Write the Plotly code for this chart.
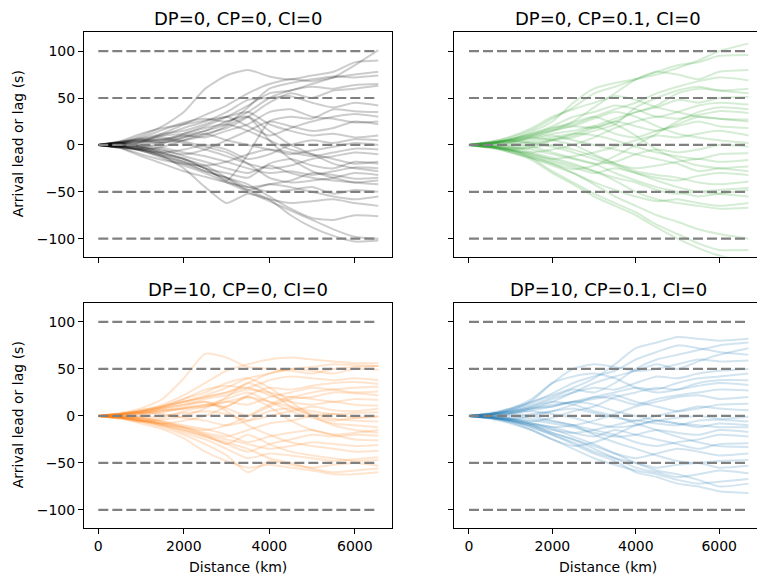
import plotly.graph_objects as go

# ---------------- data ----------------
dist_left = [0, 500, 1000, 1500, 2000, 2500, 3000, 3500, 4000, 4500, 5000, 5500, 6000, 6550]
dist_right = [0, 500, 1000, 1500, 2000, 2500, 3000, 3500, 4000, 4500, 5000, 5500, 6000, 6700]

gray_runs = [
    [0, 3, 6, 5, 12, 20, 30, 42, 55, 58, 65, 72, 85, 101],
    [0, 3, 10, 20, 35, 60, 74, 80, 73, 70, 74, 78, 88, 90],
    [0, -2, 3, 12, 22, 32, 42, 55, 65, 70, 68, 72, 75, 78],
    [0, 1, 4, 2, 8, 15, 22, 40, 60, 66, 70, 73, 72, 74],
    [0, 2, 8, 16, 24, 28, 25, 35, 50, 58, 62, 60, 64, 65],
    [0, -3, -5, -2, 5, 12, 18, 30, 45, 55, 50, 58, 60, 63],
    [0, 2, 5, 10, 18, 25, 35, 48, 50, 52, 45, 40, 45, 42],
    [0, -1, -6, -12, -18, -25, -38, -10, 25, 30, 28, 38, 36, 35],
    [0, 3, 7, 12, 15, 22, 30, 20, 10, 18, 25, 30, 33, 30],
    [0, -2, 2, 6, 10, 8, 15, 22, 35, 38, 30, 28, 24, 25],
    [0, 2, -2, -6, -10, -5, 5, 15, 25, 20, 15, 18, 25, 22],
    [0, 4, 12, 18, 22, 26, 30, 35, 22, 15, 10, 12, 8, 10],
    [0, -2, -5, -8, -5, 0, -5, -15, -10, 0, 5, 2, 6, 5],
    [0, 2, 5, 3, 8, 12, 5, 0, -5, -10, -6, -2, 2, 0],
    [0, -3, -10, -16, -20, -22, -18, -10, -5, -8, -12, -8, -4, -5],
    [0, 1, 3, 6, 2, -5, -12, -20, -25, -22, -15, -12, -8, -10],
    [0, 3, 6, 10, 12, 18, 22, 15, 5, -5, -10, -15, -20, -18],
    [0, -2, -4, -10, -15, -25, -30, -35, -20, -15, -22, -25, -18, -20],
    [0, 2, 0, -3, -8, -12, -18, -25, -30, -28, -32, -28, -24, -25],
    [0, -1, -3, 2, 5, 10, 20, 30, 15, 0, -10, -20, -25, -28],
    [0, 2, 4, 8, 4, -2, -8, -20, -35, -40, -38, -35, -30, -32],
    [0, -2, -6, -12, -20, -28, -35, -45, -42, -38, -30, -32, -36, -35],
    [0, 1, -2, -5, -12, -18, -25, -30, -22, -30, -35, -38, -40, -38],
    [0, -2, 0, 4, 10, 15, 25, 30, 5, -15, -28, -35, -40, -42],
    [0, -3, -12, -20, -28, -34, -40, -45, -50, -48, -45, -52, -48, -50],
    [0, 2, -2, -8, -15, -22, -35, -48, -42, -45, -50, -55, -58, -55],
    [0, -2, -5, -12, -25, -45, -62, -52, -58, -62, -60, -58, -62, -65],
    [0, -1, -4, -10, -18, -28, -35, -42, -55, -68, -78, -80, -75, -76],
    [0, -2, -6, -14, -22, -30, -40, -50, -60, -70, -80, -90, -98, -100],
    [0, 1, -3, -8, -15, -25, -38, -48, -58, -75, -88, -97, -103, -102],
]

green_runs = [
    [0, 2, 6, 14, 25, 45, 60, 66, 70, 75, 82, 90, 100, 108],
    [0, 3, 8, 16, 28, 40, 55, 62, 70, 78, 85, 88, 95, 96],
    [0, -2, 2, 8, 15, 25, 40, 55, 70, 78, 75, 70, 78, 80],
    [0, 2, 5, 10, 18, 22, 30, 38, 45, 55, 62, 68, 72, 69],
    [0, -1, -4, -2, 5, 12, 20, 28, 35, 42, 55, 60, 58, 60],
    [0, 2, 4, 10, 16, 20, 18, 25, 35, 40, 48, 45, 50, 51],
    [0, 1, 6, 12, 20, 30, 35, 42, 38, 30, 35, 42, 45, 43],
    [0, -2, -6, -8, -5, 0, 8, 18, 25, 30, 28, 32, 36, 34],
    [0, 2, 4, 2, 6, 10, 18, 25, 20, 15, 22, 30, 28, 27],
    [0, 1, 3, 8, 12, 15, 20, 12, 8, 15, 20, 25, 20, 18],
    [0, -3, -5, -10, -15, -12, -8, -2, 5, 10, 8, 12, 15, 10],
    [0, 2, 6, 10, 15, 20, 28, 35, 30, 20, 12, 8, 5, 2],
    [0, -1, -2, -5, -10, -15, -20, -18, -10, -5, -8, -5, 0, -2],
    [0, 2, 0, 4, 8, 12, 10, 5, -2, -8, -12, -15, -10, -9],
    [0, -2, -5, -3, 0, -5, -12, -20, -25, -22, -18, -15, -18, -16],
    [0, 1, 4, 6, 10, 5, 0, -5, -10, -15, -20, -28, -25, -23],
    [0, -2, -6, -12, -18, -24, -30, -25, -30, -35, -38, -33, -30, -32],
    [0, 2, 5, 8, 5, 0, -10, -20, -28, -32, -35, -40, -42, -39],
    [0, -1, -4, -10, -16, -22, -28, -35, -40, -48, -52, -50, -48, -46],
    [0, 3, 5, 2, -2, -8, -15, -22, -30, -38, -45, -50, -52, -55],
    [0, -2, -7, -14, -22, -30, -40, -48, -55, -60, -58, -62, -65, -62],
    [0, 1, -2, -8, -14, -20, -28, -38, -50, -58, -62, -65, -68, -67],
    [0, -2, -6, -12, -20, -30, -42, -55, -65, -75, -82, -90, -95, -100],
    [0, -1, -5, -14, -28, -40, -52, -62, -72, -85, -95, -105, -112, -112],
    [0, -2, -8, -16, -30, -42, -55, -65, -75, -88, -100, -110, -118, -125],
    [0, 3, 9, 18, 30, 38, 45, 52, 48, 40, 35, 30, 28, 25],
    [0, -3, -8, -14, -20, -26, -22, -12, 0, 12, 25, 35, 40, 38],
    [0, 2, 6, 12, 18, 24, 30, 22, 10, -5, -15, -22, -25, -28],
    [0, -2, -3, 0, 5, 8, 15, 22, 40, 50, 58, 62, 58, 55],
    [0, 1, 2, -2, -8, -14, -20, -30, -38, -45, -50, -55, -52, -48],
]

orange_runs = [
    [0, 3, 8, 18, 40, 66, 62, 52, 50, 48, 45, 50, 52, 53],
    [0, 2, 6, 12, 22, 35, 48, 55, 60, 62, 60, 58, 56, 56],
    [0, -2, 2, 8, 15, 20, 25, 35, 45, 50, 48, 45, 50, 49],
    [0, 1, 4, 10, 18, 28, 32, 30, 38, 42, 40, 38, 40, 38],
    [0, -1, -5, -8, -5, 0, 10, 22, 30, 28, 32, 35, 36, 34],
    [0, 2, 5, 8, 12, 18, 22, 28, 25, 20, 25, 28, 30, 31],
    [0, -2, -4, -2, 5, 10, 15, 12, 20, 25, 30, 28, 25, 26],
    [0, 1, 3, 6, 10, 15, 8, 0, 10, 18, 20, 25, 24, 22],
    [0, -1, -3, -8, -12, -15, -10, 0, 12, 20, 18, 15, 18, 17],
    [0, 2, 6, 10, 15, 20, 25, 30, 22, 15, 12, 15, 12, 11],
    [0, -1, -2, 0, 3, 5, 2, -5, 0, 5, 10, 6, 5, 8],
    [0, 1, 2, 5, 8, 10, 15, 20, 15, 10, 5, 2, 3, 4],
    [0, -2, -5, -8, -12, -18, -22, -15, -8, -5, 0, 2, -2, -1],
    [0, 2, 4, 2, -2, -5, -10, -5, 5, 8, 2, -3, -5, -6],
    [0, -1, 0, 4, 8, 12, 18, 25, 15, 5, -2, -8, -10, -12],
    [0, 1, -2, -6, -10, -14, -20, -28, -22, -18, -15, -20, -18, -15],
    [0, -2, -6, -10, -15, -22, -30, -38, -30, -25, -20, -22, -20, -21],
    [0, 2, 3, 6, 8, 12, 10, 20, 10, -5, -15, -20, -25, -26],
    [0, -1, -4, -8, -14, -20, -25, -30, -35, -32, -28, -30, -32, -31],
    [0, 1, 4, 8, 12, 15, 5, -10, -20, -28, -32, -35, -38, -37],
    [0, -2, -5, -10, -18, -25, -35, -45, -40, -42, -45, -48, -46, -44],
    [0, 1, -2, -6, -12, -20, -30, -20, -30, -38, -42, -45, -48, -47],
    [0, -2, -6, -12, -20, -30, -42, -60, -48, -52, -55, -52, -50, -53],
    [0, -1, -4, -10, -16, -22, -28, -35, -45, -50, -56, -60, -58, -56],
    [0, -2, -8, -14, -24, -38, -48, -55, -52, -55, -58, -62, -62, -60],
    [0, 2, 5, 10, 15, 22, 30, 40, 45, 50, 52, 55, 54, 53],
    [0, -3, -6, -4, 0, 8, 20, 35, 25, 10, 0, -5, -2, 0],
    [0, 2, 5, 10, 18, 25, 35, 40, 30, 15, 0, -10, -15, -18],
]

blue_runs = [
    [0, 3, 8, 15, 22, 30, 40, 55, 72, 78, 84, 82, 80, 82],
    [0, 2, 6, 12, 20, 28, 25, 35, 50, 60, 65, 70, 75, 78],
    [0, -1, 2, 8, 15, 25, 35, 42, 48, 55, 50, 58, 65, 72],
    [0, 2, 6, 16, 35, 50, 55, 52, 48, 50, 55, 60, 58, 59],
    [0, 1, 4, 10, 18, 25, 30, 28, 35, 42, 40, 45, 48, 50],
    [0, -2, -4, 0, 5, 12, 20, 25, 30, 28, 35, 40, 42, 45],
    [0, 2, 8, 18, 35, 42, 45, 40, 30, 25, 28, 35, 38, 38],
    [0, -1, -3, -6, -2, 5, 10, 20, 25, 30, 28, 32, 35, 33],
    [0, 1, 3, 6, 10, 15, 20, 18, 12, 18, 22, 25, 28, 27],
    [0, -2, -5, -8, -12, -10, -5, 2, 10, 15, 20, 22, 18, 20],
    [0, 2, 5, 8, 12, 15, 18, 22, 15, 10, 5, 8, 12, 13],
    [0, -1, -2, 2, 5, 8, 3, -2, -5, 0, 5, 10, 8, 6],
    [0, 1, 3, 5, 2, -2, -8, -12, -10, -5, -2, 0, -3, -1],
    [0, -2, -6, -10, -15, -18, -15, -10, -5, -8, -10, -5, -4, -6],
    [0, 2, 4, 8, 10, 15, 12, 5, 0, -5, -8, -10, -12, -12],
    [0, -1, -3, -5, -8, -12, -18, -22, -20, -15, -18, -20, -15, -17],
    [0, 1, 0, -3, -6, -10, -15, -20, -28, -32, -28, -25, -20, -22],
    [0, -2, -4, -8, -12, -18, -22, -15, -20, -25, -30, -35, -30, -29],
    [0, 2, 5, 10, 15, 12, 5, 0, -8, -15, -22, -28, -32, -33],
    [0, -1, -5, -10, -18, -25, -32, -40, -45, -40, -35, -38, -42, -40],
    [0, 1, 2, 0, -5, -10, -20, -28, -35, -42, -48, -50, -48, -47],
    [0, -2, -6, -12, -20, -28, -38, -45, -50, -55, -52, -50, -55, -53],
    [0, -1, -4, -10, -18, -25, -35, -45, -55, -60, -65, -62, -58, -61],
    [0, -3, -8, -15, -25, -35, -45, -52, -58, -62, -68, -72, -70, -67],
    [0, 1, -3, -8, -14, -22, -30, -40, -50, -58, -62, -68, -75, -72],
    [0, -2, -5, -12, -20, -30, -40, -48, -60, -65, -72, -75, -80, -82],
    [0, 2, 7, 14, 24, 35, 42, 48, 60, 68, 75, 72, 68, 65],
    [0, -2, -7, -15, -25, -32, -28, -20, -10, -5, -8, -12, -8, -10],
]

levels = [-100, -50, 0, 50, 100]
titles = ["DP=0, CP=0, CI=0", "DP=0, CP=0.1, CI=0", "DP=10, CP=0, CI=0", "DP=10, CP=0.1, CI=0"]
x_ticks = [0, 2000, 4000, 6000]
x_tick_labels = ["0", "2000", "4000", "6000"]
y_ticks = [-100, -50, 0, 50, 100]
y_tick_labels = ["\u2212100", "\u221250", "0", "50", "100"]
y_label = "Arrival lead or lag (s)"
x_label = "Distance (km)"

# ---------------- figure ----------------
W, H = 757, 579
FONT = "DejaVu Sans"

panels = [
    (gray_runs, dist_left, "rgba(0,0,0,0.2)", "x", "y"),
    (green_runs, dist_right, "rgba(44,160,44,0.2)", "x2", "y2"),
    (orange_runs, dist_left, "rgba(255,127,14,0.2)", "x3", "y3"),
    (blue_runs, dist_right, "rgba(31,119,180,0.2)", "x4", "y4"),
]

fig = go.Figure()
for runs, dist, color, xa, ya in panels:
    for run in runs:
        fig.add_trace(go.Scatter(
            x=dist, y=run, mode="lines", xaxis=xa, yaxis=ya,
            line=dict(color=color, width=2, shape="spline", smoothing=0.6),
            hoverinfo="skip", showlegend=False))
    for lv in levels:
        fig.add_trace(go.Scatter(
            x=[dist[0], dist[-1]], y=[lv, lv], mode="lines", xaxis=xa, yaxis=ya,
            line=dict(color="#808080", width=2.2, dash="10px,4px"),
            hoverinfo="skip", showlegend=False))

def px_x(p):
    return p / W

def px_y(p):
    return 1 - p / H

left_dom = [px_x(84), px_x(392)]
right_dom = [px_x(454.3), 1.0]
top_dom = [px_y(256.7), px_y(32)]
bot_dom = [px_y(528), px_y(302.7)]

left_range = [-335, 6870]
right_range = [-352, 6906]
y_range = [-119.2, 120.4]

common_x = dict(showgrid=False, zeroline=False, showline=True, linecolor="black", linewidth=1,
                mirror=True, ticks="outside", ticklen=5, tickwidth=1, tickcolor="black",
                tickvals=x_ticks, ticktext=x_tick_labels,
                tickfont=dict(family=FONT, size=14, color="black"))
common_y = dict(showgrid=False, zeroline=False, showline=True, linecolor="black", linewidth=1,
                ticks="outside", ticklen=5, tickwidth=1, tickcolor="black",
                tickvals=y_ticks, ticktext=y_tick_labels, range=y_range,
                tickfont=dict(family=FONT, size=14, color="black"))

fig.update_layout(
    width=W, height=H, margin=dict(l=0, r=0, t=0, b=0),
    paper_bgcolor="white", plot_bgcolor="white",
    font=dict(family=FONT, size=14, color="black"),
    xaxis=dict(common_x, domain=left_dom, range=left_range, anchor="y", showticklabels=False),
    yaxis=dict(common_y, domain=top_dom, anchor="x", mirror=True),
    xaxis2=dict(common_x, domain=right_dom, range=right_range, anchor="y2", showticklabels=False),
    yaxis2=dict(common_y, domain=top_dom, anchor="x2", mirror=False, showticklabels=False),
    xaxis3=dict(common_x, domain=left_dom, range=left_range, anchor="y3"),
    yaxis3=dict(common_y, domain=bot_dom, anchor="x3", mirror=True),
    xaxis4=dict(common_x, domain=right_dom, range=right_range, anchor="y4"),
    yaxis4=dict(common_y, domain=bot_dom, anchor="x4", mirror=False, showticklabels=False),
)

cx_left = px_x(238)
cx_right = px_x(608)
ann = []
for i, t in enumerate(titles):
    ann.append(dict(text=t, x=cx_left if i % 2 == 0 else cx_right,
                    y=px_y(18) if i < 2 else px_y(289.5),
                    xref="paper", yref="paper", showarrow=False,
                    xanchor="center", yanchor="middle",
                    font=dict(family=FONT, size=18, color="black")))
for cy in (144.3, 415.3):
    ann.append(dict(text=y_label, x=px_x(18), y=px_y(cy), xref="paper", yref="paper",
                    showarrow=False, textangle=-90, xanchor="center", yanchor="middle",
                    font=dict(family=FONT, size=14, color="black")))
for cx in (cx_left, cx_right):
    ann.append(dict(text=x_label, x=cx, y=px_y(567), xref="paper", yref="paper",
                    showarrow=False, xanchor="center", yanchor="middle",
                    font=dict(family=FONT, size=14, color="black")))
fig.update_layout(annotations=ann)

fig.write_html("out.html", config={"displayModeBar": False, "staticPlot": True},
               post_script="document.body.style.margin='0';document.body.style.overflow='hidden';")
